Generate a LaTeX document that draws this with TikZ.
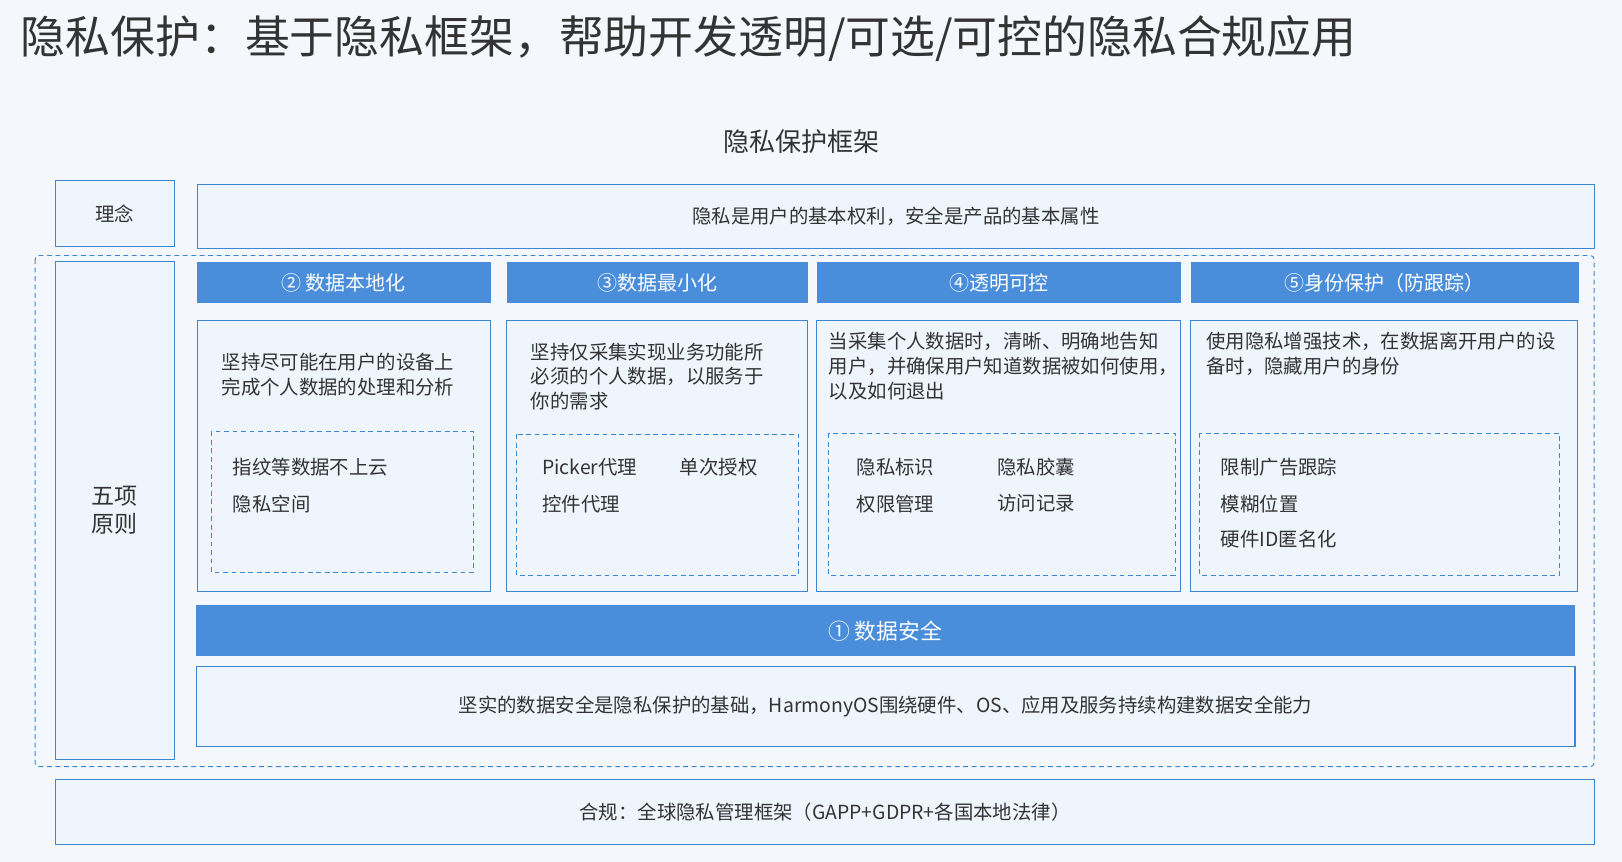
\documentclass[tikz,border=0pt]{standalone}
\usepackage{fontspec}
\setmainfont{Noto Sans CJK SC}
\usetikzlibrary{positioning}
\definecolor{bg}{HTML}{F4F8FC}
\definecolor{boxfill}{HTML}{EEF5FC}
\definecolor{edge}{HTML}{3D86D0}
\definecolor{head}{HTML}{4A8EDB}
\definecolor{ink}{HTML}{333333}
\tikzset{
  plain/.style={draw=edge,line width=0.9pt,fill=boxfill,inner sep=0pt,text=ink,font=\fontsize{16}{20}\selectfont},
  headbox/.style={fill=head,inner sep=0pt,text=white,font=\fontsize{16.5}{19}\selectfont},
  dashbox/.style={draw=edge,line width=0.8pt,dash pattern=on 4pt off 3pt},
  body/.style={text=ink,font=\fontsize{16}{20.5}\selectfont,align=left,anchor=north west,inner sep=0pt},
}
\newcommand{\boxat}[5]{\node[#5,minimum width=#3*0.3mm-#1*0.3mm,minimum height=#4*0.3mm-#2*0.3mm,anchor=north west] at (#1,#2)}
\begin{document}
\begin{tikzpicture}[x=0.3mm,y=-0.3mm]
\useasboundingbox (0,0) rectangle (1568,833);
\fill[bg] (0,0) rectangle (1568,833);
\node[anchor=west,text=ink,font=\fontsize{37}{40}\selectfont,inner sep=0pt] (title) at (20,37) {隐私保护：基于隐私框架，帮助开发透明/可选/可控的隐私合规应用};
\node[text=ink,font=\fontsize{21.5}{24}\selectfont] (frame) at (775,137) {隐私保护框架};
% outer dashed region
\draw[dashbox,rounded corners=3pt] (34,247) rectangle (1541,741);
% left column
\boxat{53}{174}{168}{238}{plain} (idea) {理念};
\boxat{190}{178}{1541}{240}{plain} (ideatxt) {隐私是用户的基本权利，安全是产品的基本属性};
\boxat{53}{252}{168}{734}{plain,align=center,font=\fontsize{19}{23}\selectfont} (five) {五项\\原则};
% headers
\boxat{190}{253}{474}{293}{headbox} (h2) {② 数据本地化};
\boxat{490}{253}{781}{293}{headbox} (h3) {③数据最小化};
\boxat{790}{253}{1141}{293}{headbox} (h4) {④透明可控};
\boxat{1151}{253}{1526}{293}{headbox} (h5) {⑤身份保护（防跟踪）};
% content boxes
\boxat{190}{309}{474}{571}{plain} (c2) {};
\boxat{489}{309}{780}{571}{plain} (c3) {};
\boxat{789}{309}{1141}{571}{plain} (c4) {};
\boxat{1150}{309}{1524}{571}{plain} (c5) {};
\draw[dashbox] (204,417) rectangle (458,553);
\draw[dashbox] (499,420) rectangle (772,556);
\draw[dashbox] (801,419) rectangle (1136,556);
\draw[dashbox] (1160,419) rectangle (1508,556);
% descriptions
\node[body] (d2) at (214,341) {坚持尽可能在用户的设备上\\完成个人数据的处理和分析};
\node[body] (d3) at (513,331) {坚持仅采集实现业务功能所\\必须的个人数据，以服务于\\你的需求};
\node[body] (d4) at (801,321) {当采集个人数据时，清晰、明确地告知\\用户，并确保用户知道数据被如何使用，\\以及如何退出};
\node[body] (d5) at (1166,321) {使用隐私增强技术，在数据离开用户的设\\备时，隐藏用户的身份};
% items
\node[body] (i21) at (225,443) {指纹等数据不上云};
\node[body] (i22) at (225,478) {隐私空间};
\node[body] (i31) at (524,443) {Picker代理};
\node[body] (i32) at (657,443) {单次授权};
\node[body] (i33) at (524,478) {控件代理};
\node[body] (i41) at (828,443) {隐私标识};
\node[body] (i42) at (964,443) {隐私胶囊};
\node[body] (i43) at (828,478) {权限管理};
\node[body] (i44) at (964,478) {访问记录};
\node[body] (i51) at (1180,443) {限制广告跟踪};
\node[body] (i52) at (1180,478) {模糊位置};
\node[body] (i53) at (1180,512) {硬件ID匿名化};
% data security
\boxat{189}{585}{1522}{634}{headbox,font=\fontsize{18}{21}\selectfont} (h1) {① 数据安全};
\boxat{189}{644}{1522}{721}{plain} (c1) {坚实的数据安全是隐私保护的基础，HarmonyOS围绕硬件、OS、应用及服务持续构建数据安全能力};
% compliance
\boxat{53}{753}{1541}{816}{plain} (law) {合规：全球隐私管理框架（GAPP+GDPR+各国本地法律）};
\end{tikzpicture}
\end{document}
